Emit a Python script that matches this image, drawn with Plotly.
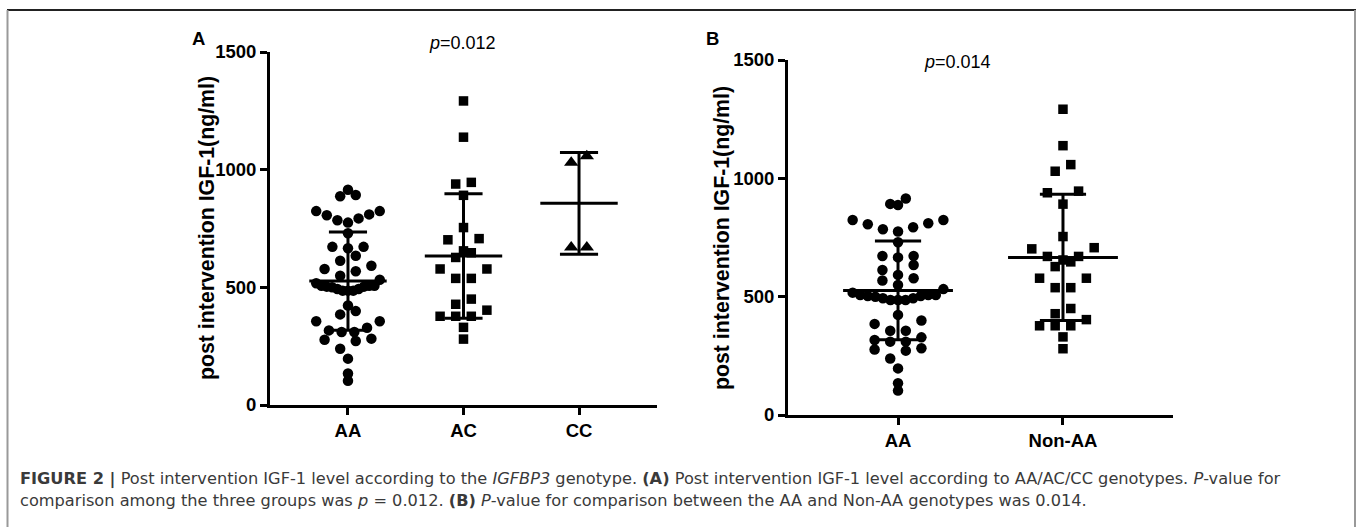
import numpy as np
import plotly.graph_objects as go

# ---------------- data ----------------
categories_a = ["AA", "AC", "CC"]
categories_b = ["AA", "Non-AA"]
y_ticks = [0, 500, 1000, 1500]

aa_values = [915, 892, 887, 824, 824, 810, 793, 806, 775, 785, 730, 672, 666, 672,
             634, 613, 592, 568, 578, 549, 532,
             507, 503, 503, 493, 486, 486, 486, 493, 500, 507, 507, 517,
             399, 423, 356, 356, 385, 328, 310, 310, 317, 282, 272, 277, 239,
             197, 134, 103]
ac_values = [1292, 1138, 946, 939, 891, 754, 707, 702, 655, 647, 627, 578, 578,
             538, 538, 450, 428, 403, 377, 377, 377, 330, 280]
cc_values = [1058, 1030, 670, 670]
non_aa_values = ac_values + cc_values

p_text_a = "<i>p</i>=0.012"
p_text_b = "<i>p</i>=0.014"
y_title = "post intervention IGF-1(ng/ml)"

# ---------------- geometry ----------------
W, H = 1358, 527
FONT = "Liberation Sans"
CAP_FONT = "DejaVu Sans"


def px_x(x):
    return x / W


def px_y(y):
    return 1 - y / H


A_left, A_right, A_top, A_bottom = 270, 657, 52, 405
B_left, B_right, B_top, B_bottom = 788, 1173, 60, 415
A_range = [-0.675, 2.675]
B_range = [-0.667, 1.667]


def swarm_offsets(values, px_per_unit, px_per_cat, row_px=14.0, spacing_px=15.6, max_frac=0.55):
    """GraphPad-like scatter-dot layout: values binned in rows, centred in each row."""
    vals = np.asarray(values, dtype=float)
    row_units = row_px / px_per_unit
    bins = np.floor(vals / row_units).astype(int)
    offs = np.zeros(len(vals))
    for b in np.unique(bins):
        idx = np.where(bins == b)[0]
        idx = idx[np.argsort(vals[idx], kind="stable")]
        n = len(idx)
        s = spacing_px if n <= 1 else min(spacing_px, max_frac * px_per_cat / (n - 1))
        slots = (np.arange(n) - (n - 1) / 2.0) * s
        order = np.argsort(np.abs(slots), kind="stable")
        for j, k in enumerate(idx):
            offs[k] = slots[order[j]] / px_per_cat
    return offs


fig = go.Figure()

markers = {"AA": ("circle", 10.5), "AC": ("square", 9.5), "CC": ("triangle-up", 12.5),
           "Non-AA": ("square", 9.5)}


def add_group(vals, idx, cat, xref, yref, px_per_unit, px_per_cat, mean_hw, cap_hw):
    sym, size = markers[cat]
    offs = swarm_offsets(vals, px_per_unit, px_per_cat)
    xs = idx + offs
    fig.add_trace(go.Scatter(x=xs, y=vals, mode="markers", xaxis=xref, yaxis=yref,
                             marker=dict(symbol=sym, size=size, color="black",
                                         line=dict(width=0)),
                             cliponaxis=False, showlegend=False, hoverinfo="y"))
    m = float(np.mean(vals))
    sd = float(np.std(vals, ddof=1))
    lx, ly = [], []
    lx += [idx - mean_hw, idx + mean_hw, None]
    ly += [m, m, None]
    lx += [idx - cap_hw, idx + cap_hw, None, idx - cap_hw, idx + cap_hw, None]
    ly += [m + sd, m + sd, None, m - sd, m - sd, None]
    lx += [idx, idx]
    ly += [m - sd, m + sd]
    fig.add_trace(go.Scatter(x=lx, y=ly, mode="lines", xaxis=xref, yaxis=yref,
                             line=dict(color="black", width=3),
                             cliponaxis=False, showlegend=False, hoverinfo="skip"))


A_ppu = (A_bottom - A_top) / 1500.0
A_ppc = (A_right - A_left) / (A_range[1] - A_range[0])
B_ppu = (B_bottom - B_top) / 1500.0
B_ppc = (B_right - B_left) / (B_range[1] - B_range[0])

for i, (cat, vals) in enumerate(zip(categories_a, [aa_values, ac_values, cc_values])):
    add_group(vals, i, cat, "x", "y", A_ppu, A_ppc, 0.335, 0.165)
for i, (cat, vals) in enumerate(zip(categories_b, [aa_values, non_aa_values])):
    add_group(vals, i, cat, "x2", "y2", B_ppu, B_ppc, 0.333, 0.14)

axis_common = dict(showline=True, linewidth=3, linecolor="black", ticks="outside",
                   ticklen=7, tickwidth=3, tickcolor="black", showgrid=False,
                   zeroline=False, automargin=False,
                   tickfont=dict(family=FONT, size=18.5, color="black", weight="bold"))

fig.update_layout(
    width=W, height=H, autosize=False,
    margin=dict(l=0, r=0, t=0, b=0, pad=0, autoexpand=False),
    paper_bgcolor="white", plot_bgcolor="white",
    xaxis=dict(domain=[px_x(A_left), px_x(A_right)], range=A_range,
               tickvals=list(range(len(categories_a))), ticktext=categories_a,
               anchor="y", **axis_common),
    yaxis=dict(domain=[px_y(A_bottom), px_y(A_top)], range=[0, 1500],
               tickvals=y_ticks, anchor="x", **axis_common),
    xaxis2=dict(domain=[px_x(B_left), px_x(B_right)], range=B_range,
                tickvals=list(range(len(categories_b))), ticktext=categories_b,
                anchor="y2", **axis_common),
    yaxis2=dict(domain=[px_y(B_bottom), px_y(B_top)], range=[0, 1500],
                tickvals=y_ticks, anchor="x2", **axis_common),
)

ann = []
ann.append(dict(x=px_x(198), y=px_y(39), text="A", font=dict(family=FONT, size=18.5, weight="bold", color="black")))
ann.append(dict(x=px_x(712), y=px_y(39), text="B", font=dict(family=FONT, size=18.5, weight="bold", color="black")))
ann.append(dict(x=px_x(462), y=px_y(43), text=p_text_a, font=dict(family=FONT, size=18, color="black")))
ann.append(dict(x=px_x(957), y=px_y(62), text=p_text_b, font=dict(family=FONT, size=18, color="black")))
ann.append(dict(x=px_x(207), y=px_y(228), text=y_title, textangle=-90,
                font=dict(family=FONT, size=21.3, weight="bold", color="black")))
ann.append(dict(x=px_x(722), y=px_y(238), text=y_title, textangle=-90,
                font=dict(family=FONT, size=21.3, weight="bold", color="black")))
cap1 = ("<b>FIGURE 2 |</b> Post intervention IGF-1 level according to the <i>IGFBP3</i> genotype. "
        "<b>(A)</b> Post intervention IGF-1 level according to AA/AC/CC genotypes. <i>P</i>-value for")
cap2 = ("comparison among the three groups was <i>p</i> = 0.012. <b>(B)</b> <i>P</i>-value for "
        "comparison between the AA and Non-AA genotypes was 0.014.")
ann.append(dict(x=px_x(18), y=px_y(479), text=cap1, xanchor="left",
                font=dict(family=CAP_FONT, size=16.2, color="#3a3a3a")))
ann.append(dict(x=px_x(18), y=px_y(500), text=cap2, xanchor="left",
                font=dict(family=CAP_FONT, size=16.2, color="#3a3a3a")))

for a in ann:
    a.setdefault("xanchor", "center")
    a.setdefault("yanchor", "middle")
    a.update(xref="paper", yref="paper", showarrow=False)
fig.update_layout(annotations=ann)

fig.add_shape(type="line", xref="paper", yref="paper", x0=px_x(7), x1=px_x(1356),
              y0=px_y(10), y1=px_y(10), line=dict(color="#222222", width=2))
fig.add_shape(type="line", xref="paper", yref="paper", x0=px_x(7.5), x1=px_x(7.5),
              y0=px_y(10), y1=0, line=dict(color="#999999", width=2))
fig.add_shape(type="line", xref="paper", yref="paper", x0=px_x(1355), x1=px_x(1355),
              y0=px_y(10), y1=0, line=dict(color="#999999", width=2))

fig.write_html("out.html", config={"displayModeBar": False},
               post_script="document.body.style.margin='0px';document.body.style.overflow='hidden';")
